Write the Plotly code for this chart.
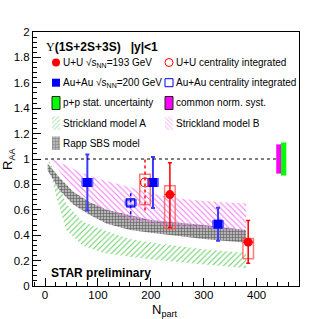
import plotly.graph_objects as go

# ---------------- data ----------------
uu_npart = [236, 384]
uu_raa = [0.72, 0.345]
uu_stat_hi = [0.25, 0.17]
uu_stat_lo = [0.26, 0.165]
uu_sys_hi = [0.07, 0.03]
uu_sys_lo = [0.27, 0.13]

uuint_npart = [189]
uuint_raa = [0.815]
uuint_stat_hi = [0.195]
uuint_stat_lo = [0.22]
uuint_sys_hi = [0.065]
uuint_sys_lo = [0.175]

auau_npart = [80, 204, 327]
auau_raa = [0.815, 0.815, 0.487]
auau_stat_hi = [0.22, 0.20, 0.13]
auau_stat_lo = [0.22, 0.20, 0.13]
auau_sys = [0.03, 0.03, 0.025]

auint_npart = [162]
auint_raa = [0.655]
auint_stat_hi = [0.09]
auint_stat_lo = [0.09]
auint_sys = [0.022]

norm_syst = 0.115
pp_stat = 0.13

modelA_x = [8, 20, 40, 70, 110, 160, 220, 300, 380]
modelA_hi = [0.99, 0.86, 0.65, 0.51, 0.44, 0.37, 0.33, 0.29, 0.26]
modelA_lo = [0.94, 0.72, 0.44, 0.32, 0.26, 0.23, 0.20, 0.17, 0.14]

modelB_x = [14, 40, 70, 104, 167, 230, 300, 380]
modelB_hi = [1.0, 0.95, 0.89, 0.84, 0.77, 0.70, 0.67, 0.65]
modelB_lo = [0.98, 0.83, 0.71, 0.62, 0.51, 0.47, 0.45, 0.43]

rapp_x = [5, 28, 54, 85, 117, 161, 200, 300, 380]
rapp_hi = [0.965, 0.85, 0.74, 0.66, 0.60, 0.56, 0.52, 0.48, 0.44]
rapp_lo = [0.91, 0.75, 0.64, 0.56, 0.49, 0.44, 0.42, 0.37, 0.34]

# ---------------- style constants ----------------
FONT = "Liberation Sans, Arial, sans-serif"
RED = "#ff0000"
BLUE = "#0000ff"
BOX_HW = 10  # half width of systematic boxes (in N_part units)
NORM_X = [441.5, 451.5]
NORM_HW = 4.5
GREEN_HATCH = "#6ccf6c"
PINK_HATCH = "#f27cf2"
GRAY_FG = "#5a5a5a"
GRAY_BG = "#b4b4b4"

fig = go.Figure()


def band(x, hi, lo, shape, fg, bg, size, sol):
    fig.add_trace(go.Scatter(
        x=list(x) + list(x)[::-1], y=list(hi) + list(lo)[::-1],
        mode="lines", fill="toself", line=dict(width=0),
        fillpattern=dict(shape=shape, fgcolor=fg, bgcolor=bg, size=size,
                         solidity=sol, fillmode="replace"),
        hoverinfo="skip", showlegend=False))


band(modelA_x, modelA_hi, modelA_lo, "/", GREEN_HATCH, "rgba(255,255,255,0)", 4, 0.28)
band(rapp_x, rapp_hi, rapp_lo, "+", GRAY_FG, GRAY_BG, 3, 0.35)
band(modelB_x, modelB_hi, modelB_lo, "\\", PINK_HATCH, "rgba(255,255,255,0)", 4, 0.28)


def boxes(xs, ys, hi, lo, line, fill):
    bx, by = [], []
    for x, y, h, l in zip(xs, ys, hi, lo):
        bx += [x - BOX_HW, x + BOX_HW, x + BOX_HW, x - BOX_HW, x - BOX_HW, None]
        by += [y - l, y - l, y + h, y + h, y - l, None]
    fig.add_trace(go.Scatter(x=bx, y=by, mode="lines", fill="toself" if fill else "none",
                             fillcolor=fill, line=dict(color=line, width=1.5),
                             hoverinfo="skip", showlegend=False))


def dashed_err(xs, ys, hi, lo, color, dash):
    ex, ey = [], []
    for x, y, h, l in zip(xs, ys, hi, lo):
        ex += [x, x, None]
        ey += [y - l, y + h, None]
    fig.add_trace(go.Scatter(x=ex, y=ey, mode="lines",
                             line=dict(color=color, width=1.5, dash=dash),
                             hoverinfo="skip", showlegend=False))


# systematic boxes
boxes(auau_npart, auau_raa, auau_sys, auau_sys, "rgba(60,60,255,0.7)", "rgba(120,120,255,0.35)")
boxes(auint_npart, auint_raa, auint_sys, auint_sys, "rgba(60,60,255,0.8)", "rgba(160,160,255,0.3)")
boxes(uu_npart, uu_raa, uu_sys_hi, uu_sys_lo, "rgba(255,80,80,0.75)", None)
boxes(uuint_npart, uuint_raa, uuint_sys_hi, uuint_sys_lo, "rgba(255,80,80,0.75)", None)

# integrated dotted stat errors
dashed_err(auint_npart, auint_raa, auint_stat_hi, auint_stat_lo, BLUE, "dot")
dashed_err(uuint_npart, uuint_raa, uuint_stat_hi, uuint_stat_lo, RED, "dot")

# data points
fig.add_trace(go.Scatter(
    x=auau_npart, y=auau_raa, mode="markers",
    marker=dict(symbol="square", size=9, color=BLUE),
    error_y=dict(type="data", symmetric=False, array=auau_stat_hi, arrayminus=auau_stat_lo,
                 color="#3b3bff", thickness=2, width=2),
    showlegend=False))
fig.add_trace(go.Scatter(
    x=auint_npart, y=auint_raa, mode="markers",
    marker=dict(symbol="square-open", size=8, color=BLUE, line=dict(width=1.2)),
    showlegend=False))
fig.add_trace(go.Scatter(
    x=uu_npart, y=uu_raa, mode="markers",
    marker=dict(symbol="circle", size=9, color=RED),
    error_y=dict(type="data", symmetric=False, array=uu_stat_hi, arrayminus=uu_stat_lo,
                 color=RED, thickness=1.5, width=2),
    error_x=dict(type="constant", value=BOX_HW, color=RED, thickness=1, width=0),
    showlegend=False))
fig.add_trace(go.Scatter(
    x=uuint_npart, y=uuint_raa, mode="markers",
    marker=dict(symbol="circle-open", size=9, color=RED, line=dict(width=1.2)),
    showlegend=False))

shapes = [
    dict(type="line", xref="x", yref="y", x0=0, x1=NORM_X[0] - NORM_HW, y0=1, y1=1,
         line=dict(color="black", width=1, dash="dot")),
    dict(type="rect", xref="x", yref="y", x0=NORM_X[0] - NORM_HW, x1=NORM_X[0] + NORM_HW,
         y0=1 - norm_syst, y1=1 + norm_syst, fillcolor="#ff00ff", line=dict(width=0)),
    dict(type="rect", xref="x", yref="y", x0=NORM_X[1] - NORM_HW - 1, x1=NORM_X[1] + NORM_HW,
         y0=1 - pp_stat, y1=1 + pp_stat, fillcolor="#00ff00", line=dict(width=0)),
]

# ---------------- legend (drawn on a pixel-coordinate overlay axis) ----------------
def swatch(x0, x1, y0, y1, **kw):
    fig.add_trace(go.Scatter(x=[x0, x1, x1, x0, x0], y=[y0, y0, y1, y1, y0],
                             xaxis="x2", yaxis="y2", mode="lines", fill="toself",
                             hoverinfo="skip", showlegend=False, **kw))


def mark(x, y, **kw):
    fig.add_trace(go.Scatter(x=[x], y=[y], xaxis="x2", yaxis="y2", mode="markers",
                             hoverinfo="skip", showlegend=False, marker=kw))


mark(56, 62.5, symbol="circle", size=8, color=RED)
mark(169, 62.5, symbol="circle-open", size=8, color=RED, line=dict(width=1))
mark(56, 82.7, symbol="square", size=8, color=BLUE)
mark(169, 82.7, symbol="square-open", size=8, color=BLUE, line=dict(width=1))
swatch(52, 60, 96.5, 109.5, fillcolor="#00ff00", line=dict(color="#222222", width=1))
swatch(165, 173, 96.5, 109.5, fillcolor="#ff00ff", line=dict(color="#222222", width=1))
swatch(52, 60, 116.5, 130, line=dict(width=0),
       fillpattern=dict(shape="/", fgcolor=GREEN_HATCH, bgcolor="rgba(255,255,255,0)", size=3, solidity=0.35))
swatch(165, 173, 116.5, 130, line=dict(width=0),
       fillpattern=dict(shape="\\", fgcolor=PINK_HATCH, bgcolor="rgba(255,255,255,0)", size=3, solidity=0.35))
swatch(52, 60, 136.5, 150, line=dict(width=0),
       fillpattern=dict(shape="+", fgcolor=GRAY_FG, bgcolor=GRAY_BG, size=3, solidity=0.35))

ann = []


def txt(x, y, s, size=10, **kw):
    ann.append(dict(x=x, y=y, xref="x2", yref="y2", text=s, showarrow=False,
                    xanchor="left", yanchor="middle",
                    font=dict(family=FONT, size=size, color="black"), **kw))


txt(44, 46.5, "<span style='font-family:Liberation Serif'>Υ</span><b>(1S+2S+3S)&nbsp;&nbsp;&nbsp;|y|&lt;1</b>", size=12)
txt(61, 62.5, "U+U √s<sub>NN</sub>=193 GeV")
txt(174, 62.5, "U+U centrality integrated")
txt(61, 82.7, "Au+Au √s<sub>NN</sub>=200 GeV")
txt(174, 82.7, "Au+Au centrality integrated")
txt(61, 102.5, "p+p stat. uncertainty")
txt(174, 102.5, "common norm. syst.")
txt(61, 123, "Strickland model A")
txt(174, 123, "Strickland model B")
txt(61, 143, "Rapp SBS model")
txt(49, 272.5, "<b>STAR preliminary</b>", size=12)

# axis titles
ann.append(dict(x=0.496, y=-0.054, xref="paper", yref="paper", text="N<sub>part</sub>",
                showarrow=False, xanchor="center", yanchor="top",
                font=dict(family=FONT, size=13, color="black")))
ann.append(dict(x=-0.094, y=0.5, xref="paper", yref="paper", text="R<sub>AA</sub>",
                showarrow=False, xanchor="center", yanchor="middle", textangle=-90,
                font=dict(family=FONT, size=13, color="black")))

axis_common = dict(showgrid=False, zeroline=False, showline=True, mirror=True,
                   linecolor="black", linewidth=1, ticks="inside", ticklen=8,
                   tickcolor="black", tickfont=dict(family=FONT, size=11.5, color="black"))

fig.update_layout(
    width=332, height=319,
    margin=dict(l=33, r=33, t=32, b=33),
    paper_bgcolor="white", plot_bgcolor="white",
    showlegend=False,
    xaxis=dict(range=[-22.7, 480], tick0=0, dtick=100, ticklabelstandoff=-2,
               minor=dict(dtick=20, ticks="inside", ticklen=4, tickcolor="black"),
               **axis_common),
    yaxis=dict(range=[0, 2], tick0=0, dtick=0.2,
               minor=dict(dtick=0.04, ticks="inside", ticklen=4, tickcolor="black"),
               **axis_common),
    xaxis2=dict(range=[33, 299], overlaying="x", visible=False, fixedrange=True),
    yaxis2=dict(range=[286, 32], overlaying="y", visible=False, fixedrange=True),
    shapes=shapes,
    annotations=ann,
)

fig.write_html("out.html", config={"displayModeBar": False},
               post_script="document.body.style.margin='0';document.body.style.overflow='hidden';")
